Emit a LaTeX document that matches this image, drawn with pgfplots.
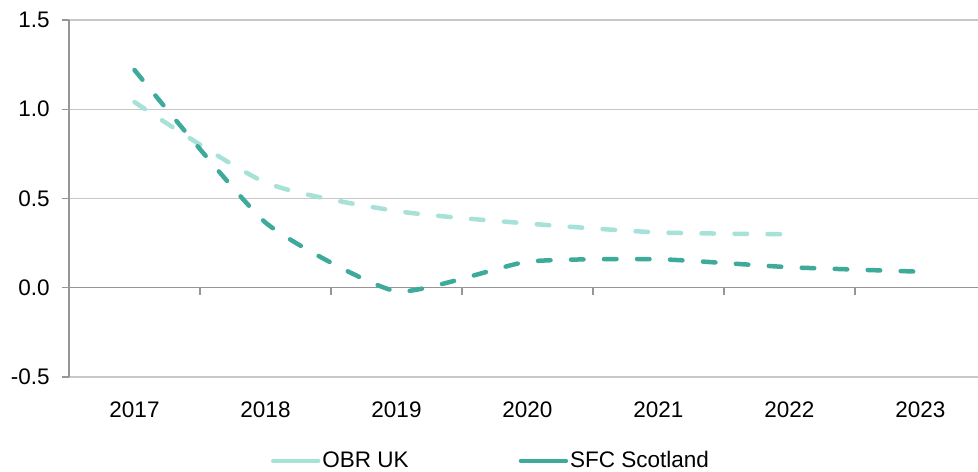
\documentclass[border=0pt]{standalone}
\usepackage{fontspec}
\setmainfont{Liberation Sans}
\usepackage{pgfplots}
\pgfplotsset{compat=1.18}

\definecolor{obr}{RGB}{166,226,216}
\definecolor{sfc}{RGB}{62,170,155}
\definecolor{gridgray}{RGB}{200,200,200}
\definecolor{axisgray}{RGB}{150,150,150}

\begin{document}
\fontsize{11.25pt}{13pt}\selectfont
\begin{tikzpicture}
\begin{axis}[
  name=ax,
  scale only axis,
  width=454.5pt, height=178.5pt,
  xmin=-0.5, xmax=6.439,
  ymin=-0.5, ymax=1.5,
  axis y line*=left,
  axis x line*=bottom,
  y axis line style={axisgray, line width=0.6pt},
  x axis line style={gridgray, line width=0.6pt},
  ymajorgrids,
  grid style={gridgray, line width=0.6pt},
  ytick={-0.5,0,0.5,1,1.5},
  yticklabels={-0.5,0.0,0.5,1.0,1.5},
  xtick={0,1,2,3,4,5,6},
  xticklabels={2017,2018,2019,2020,2021,2022,2023},
  tick align=outside,
  ytick style={axisgray, line width=0.6pt},
  major tick length=3.5pt,
  xtick style={draw=none},
  yticklabel style={inner sep=0pt, xshift=-6pt},
  xticklabel style={inner sep=0pt, yshift=-8.5pt},
  tick label style={font=\fontsize{11.25pt}{13pt}\selectfont},
  legend style={
    draw=none, fill=none,
    at={(0.4642,-0.235)}, anchor=center,
    font=\fontsize{11.25pt}{13pt}\selectfont,
    nodes={inner xsep=1pt, inner ysep=0pt},
    /tikz/every even column/.append style={column sep=54pt},
  },
  legend columns=2,
  legend image code/.code={\draw[solid, line width=2.25pt] (0pt,0pt) -- (22.5pt,0pt);},
  clip=false,
]
% zero line with category boundary ticks
\draw[axisgray, line width=0.6pt] (axis cs:-0.5,0) -- (axis cs:6.439,0);
\pgfplotsinvokeforeach{0.5,1.5,2.5,3.5,4.5,5.5}{
  \draw[axisgray, line width=0.6pt] (axis cs:#1,0) -- ++(0pt,-3.5pt);
}

\addplot[obr, line width=2.25pt, line cap=round, smooth, tension=0.4,
  dash pattern=on 6.25pt off 10.25pt]
  coordinates {(0,1.04) (1,0.59) (2,0.43) (3,0.36) (4,0.31) (5,0.30)};
\addlegendentry{OBR UK}

\addplot[sfc, line width=2.25pt, line cap=round, smooth, tension=0.3,
  dash pattern=on 6.25pt off 10.25pt]
  coordinates {(0,1.22) (1,0.365) (2,-0.02) (3,0.146) (4,0.16) (5,0.115) (6,0.09)};
\addlegendentry{SFC Scotland}
\end{axis}
\pgfresetboundingbox
\path[use as bounding box] ([xshift=-34.5pt,yshift=-47.5pt]ax.south west) rectangle ([yshift=10pt]ax.north east);
\end{tikzpicture}
\end{document}
